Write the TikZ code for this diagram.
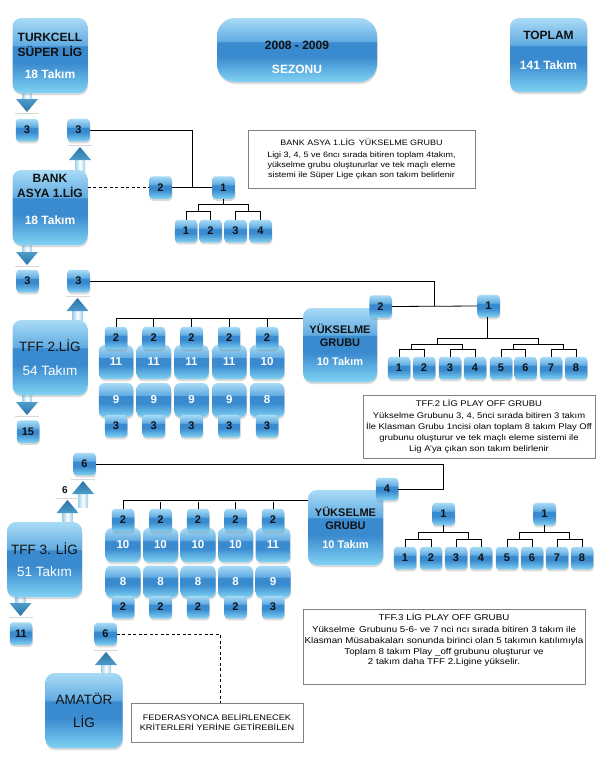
\documentclass[tikz,border=0pt]{standalone}
\usepackage{fontspec}
\setmainfont{Liberation Sans}
\newfontfamily\notefont[FakeStretch=1.15]{Liberation Sans}
\usetikzlibrary{calc, shadows}

\definecolor{glossTop}{HTML}{A9DBF6}
\definecolor{glossMid}{HTML}{62ACE2}
\definecolor{glossDark}{HTML}{3A8ACF}
\definecolor{glossBot}{HTML}{80D2F3}
\definecolor{arrDark}{HTML}{2A74A6}
\definecolor{arrMid}{HTML}{4E9CCB}
\definecolor{arrLight}{HTML}{9CCFEA}
\definecolor{ink}{HTML}{111111}
\definecolor{frame}{HTML}{808080}

\pgfdeclareverticalshading{glossy}{100bp}{color(0bp)=(glossBot); color(25bp)=(glossBot); color(45bp)=(glossDark); color(56bp)=(glossDark); color(57bp)=(glossMid); color(75bp)=(glossTop); color(100bp)=(glossTop)}

\tikzset{
  glossbox/.style={shading=glossy, rounded corners=#1, inner sep=0pt, text=ink,
    drop shadow={shadow xshift=0.5pt, shadow yshift=-2pt, opacity=0.3}},
  glossbox/.default=4pt,
  league/.style={glossbox=9pt, minimum width=75pt, minimum height=75pt, align=center,
    font=\bfseries\fontsize{12}{15}\selectfont},
  boxlbl/.style={align=center, text=ink, inner sep=0pt, font=\bfseries\fontsize{12}{15}\selectfont},
  seat/.style={glossbox=3.5pt, minimum width=22.5pt, minimum height=22.5pt,
    font=\bfseries\fontsize{11}{11}\selectfont},
  pool/.style={glossbox=6pt, minimum width=34.5pt, minimum height=34pt, text=white,
    font=\bfseries\fontsize{11.5}{11.5}\selectfont},
  note/.style={draw=frame, fill=white, line width=0.7pt, inner sep=0pt, align=center, text=black},
  link/.style={line width=0.8pt},
  hint/.style={link, dash pattern=on 3pt off 2.5pt}
}

% block arrows: centre x, top y, tip y (down) / centre x, tip y, bottom y (up)
\newcommand{\arrdown}[3]{%
  \path[left color=arrLight, right color=arrLight, middle color=white] (#1-5,#2) rectangle (#1+5,#3-12);
  \path[top color=arrMid, bottom color=arrDark] (#1-11,#3-13) -- (#1+11,#3-13) -- (#1,#3) -- cycle;
  \draw[black!15] (#1-12,#3+1) -- (#1+12,#3+1);}
\newcommand{\arrup}[3]{%
  \path[left color=arrLight, right color=arrLight, middle color=white] (#1-5,#2+12) rectangle (#1+5,#3);
  \path[top color=arrDark, bottom color=arrMid] (#1-11,#2+13) -- (#1+11,#2+13) -- (#1,#2) -- cycle;
  \draw[black!15] (#1-12,#2-2) -- (#1+12,#2-2);}
% bracket joining two points, with its joint named
\newcommand{\pairjoin}[4]{%
  \coordinate (#4) at ($(#1)!.5!(#2)+(0,-#3)$);
  \draw[link] (#1) |- (#4) -| (#2);}

\begin{document}
\begin{tikzpicture}[x=1pt, y=-1pt]
    \useasboundingbox (0,0) rectangle (598,772);

    % Arrows
    \arrdown{27}{87}{112}
    \arrdown{27}{240}{265}
    \arrdown{27}{389}{415}
    \arrdown{20.5}{590}{616}
    \arrup{80}{147}{173}
    \arrup{77.5}{298}{325}
    \arrup{83}{481}{507}
    \arrup{67.5}{500}{526}
    \arrup{106}{652}{678}

    % Leagues
    \node[league] (tsl) at (50,55.5) {TURKCELL\\SÜPER LİG\\[7pt]\textcolor{white}{18 Takım}};
    \node[league, minimum width=160pt, minimum height=64pt, rounded corners=18pt,
      label={[boxlbl, yshift=-7]center:{2008 - 2009\\[9pt]\textcolor{white}{SEZONU}}}] (season) at (297,50) {};
    \node[league, minimum width=77pt, minimum height=74pt,
      label={[boxlbl, yshift=5]center:{TOPLAM\\[15pt]\textcolor{white}{141 Takım}}}] (total) at (548.5,55) {};
    \node[league, label={[boxlbl, yshift=8.5]center:{BANK\\ASYA 1.LİG\\[12pt]\textcolor{white}{18 Takım}}}] (bank) at (50,207.5) {};
    \node[league, font=\fontsize{13.5}{16}\selectfont] (tff2) at (50,357.5) {TFF 2.LİG\\[8pt]\textcolor{white}{54 Takım}};
    \node[league, font=\fontsize{13.5}{16}\selectfont] (tff3) at (44.5,559.5) {TFF 3. LİG\\[6pt]\textcolor{white}{51 Takım}};
    \node[league, minimum width=77pt, font=\fontsize{13.5}{16}\selectfont] (amat) at (84,710.5) {AMATÖR\\[7pt]LİG};

    % Bank Asya 1.Lig
    \node[seat] (sa3) at (27,130) {3};
    \node[seat] (sb3) at (78.5,130) {3};
    \node[seat] (bA2) at (160.5,187.5) {2};
    \node[seat] (bA1) at (223.5,187.5) {1};
    \foreach \n/\x in {1/186, 2/210.5, 3/235.5, 4/260.5}
        \node[seat] (bl\n) at (\x,231) {\n};
    \node[note, minimum width=227pt, minimum height=58pt, font=\notefont\fontsize{7.8}{10}\selectfont] (note1) at (361.5,159)
        {BANK ASYA 1.LİG\enspace YÜKSELME GRUBU\\[2pt]Ligi 3, 4, 5 ve 6ncı sırada bitiren toplam 4takım,\\yükselme grubu oluştururlar ve tek maçlı eleme\\sistemi ile Süper Lige çıkan son takım belirlenir};

    % TFF 2.Lig
    \node[seat] (sc3) at (27.5,281) {3};
    \node[seat] (sd3) at (78.5,281) {3};
    \node[seat] (s15) at (28,431.5) {15};
    \foreach \i/\x/\u/\l in {1/116/11/9, 2/153.75/11/9, 3/191.5/11/9, 4/229.25/11/9, 5/267/10/8} {
        \node[pool] (up2\i) at (\x,362) {\u};
        \node[pool] (lo2\i) at (\x,400) {\l};
        \node[seat] (in2\i) at (\x,338) {2};
        \node[seat] (out2\i) at (\x,426) {3};
    }
    \node[league, minimum width=74pt, minimum height=74pt, font=\bfseries\fontsize{11}{13}\selectfont] (yg1) at (340,345)
        {YÜKSELME\\GRUBU\\[6pt]\textcolor{white}{10 Takım}};
    \node[seat] (g2) at (380.5,306.5) {2};
    \node[seat] (g1) at (488.5,306) {1};
    \foreach \n/\x in {1/399, 2/424, 3/450, 4/475, 5/501, 6/525.5, 7/551, 8/576}
        \node[seat] (gl\n) at (\x,368) {\n};
    \node[note, minimum width=232pt, minimum height=63pt, font=\notefont\fontsize{8.2}{11}\selectfont] (note2) at (479,426.5)
        {TFF.2 LİG PLAY OFF GRUBU\\[1pt]Yükselme Grubunu 3, 4, 5nci sırada bitiren 3 takım\\İle Klasman Grubu 1ncisi olan toplam 8 takım Play Off\\grubunu oluşturur ve tek maçlı eleme sistemi ile\\Lig A’ya çıkan son takım belirlenir};

    % TFF 3.Lig
    \node[seat] (q6) at (84.5,464) {6};
    \node[font=\bfseries\fontsize{10}{10}\selectfont, text=ink, inner sep=0pt] (six) at (65,490) {6};
    \node[seat] (s11) at (21,633.5) {11};
    \node[seat] (a6) at (105.5,634) {6};
    \foreach \i/\x/\u/\l/\d in {1/123/10/8/2, 2/160.5/10/8/2, 3/198/10/8/2, 4/235.5/10/8/2, 5/273/11/9/3} {
        \node[pool, minimum width=35pt] (up3\i) at (\x,545) {\u};
        \node[pool, minimum width=35pt, minimum height=32pt] (lo3\i) at (\x,581.5) {\l};
        \node[seat] (in3\i) at (\x,520) {2};
        \node[seat] (out3\i) at (\x,607) {\d};
    }
    \node[league, font=\bfseries\fontsize{11}{13}\selectfont] (yg2) at (345.5,527.5)
        {YÜKSELME\\GRUBU\\[6pt]\textcolor{white}{10 Takım}};
    \node[seat] (g4) at (387,489) {4};
    \node[seat] (h1) at (443.5,514) {1};
    \node[seat] (h1b) at (544.5,514) {1};
    \foreach \n/\x in {1/405, 2/431, 3/456, 4/481, 5/507, 6/532, 7/557, 8/582}
        \node[seat] (hl\n) at (\x,558) {\n};
    \node[note, minimum width=282pt, minimum height=75pt,
      label={[align=center, inner sep=0pt, yshift=6.5, font=\notefont\fontsize{8.5}{10.8}\selectfont]center:{TFF.3 LİG PLAY OFF GRUBU\\[1pt]Yükselme\enspace Grubunu 5-6- ve 7 nci ncı sırada bitiren 3 takım ile\\Klasman Müsabakaları sonunda birinci olan 5 takımın katılımıyla\\Toplam 8 takım Play \_off grubunu oluşturur ve\\2 takım daha TFF 2.Ligine yükselir.}}] (note3) at (444,646.5) {};
    \node[note, minimum width=172pt, minimum height=39pt, font=\notefont\fontsize{8}{10}\selectfont] (fed) at (217,722.5)
        {FEDERASYONCA BELİRLENECEK\\KRİTERLERİ YERİNE GETİREBİLEN};

    % Connectors
    \draw[link] (sb3.east) -| ($(bA2.east)!.5!(bA1.west)$);
    \draw[link] (bA2.east) -- (bA1.west);
    \draw[hint] (bank.east |- bA2.west) -- (bA2.west);
    \pairjoin{bl1.north}{bl2.north}{8}{bj1}
    \pairjoin{bl3.north}{bl4.north}{8}{bj2}
    \pairjoin{bj1}{bj2}{7}{bj3}
    \draw[link] (bj3) -- (bj3 |- bA1.south);

    \draw[link] (sd3.east) -| ($(g2.east)!.5!(g1.west)$);
    \draw[link] (g2.east) -- (g1.west);
    \draw[link] (in21.north) |- ([yshift=-11pt]yg1.north west);
    \foreach \i in {2,...,5}
        \draw[link] (in2\i.north) -- ++(0,-8);
    \pairjoin{gl1.north}{gl2.north}{7}{gj1}
    \pairjoin{gl3.north}{gl4.north}{7}{gj2}
    \pairjoin{gl5.north}{gl6.north}{7}{gj3}
    \pairjoin{gl7.north}{gl8.north}{7}{gj4}
    \pairjoin{gj1}{gj2}{5}{gj5}
    \pairjoin{gj3}{gj4}{5}{gj6}
    \pairjoin{gj5}{gj6}{6}{gj7}
    \draw[link] (gj7) -- (gj7 |- g1.south);

    \draw[link] (q6.east) -| ([xshift=45pt]g4.east) -- (g4.east);
    \draw[link] (in31.north) |- ([yshift=-11pt]yg2.north west);
    \foreach \i in {2,...,5}
        \draw[link] (in3\i.north) -- ++(0,-7);
    \pairjoin{hl1.north}{hl2.north}{7}{hj1}
    \pairjoin{hl3.north}{hl4.north}{7}{hj2}
    \pairjoin{hj1}{hj2}{7}{hj3}
    \draw[link] (hj3) -- (hj3 |- h1.south);
    \pairjoin{hl5.north}{hl6.north}{7}{hj4}
    \pairjoin{hl7.north}{hl8.north}{7}{hj5}
    \pairjoin{hj4}{hj5}{7}{hj6}
    \draw[link] (hj6) -- (hj6 |- h1b.south);

    \draw[hint] (a6.east) -| ([xshift=3pt]fed.north);
\end{tikzpicture}
\end{document}
